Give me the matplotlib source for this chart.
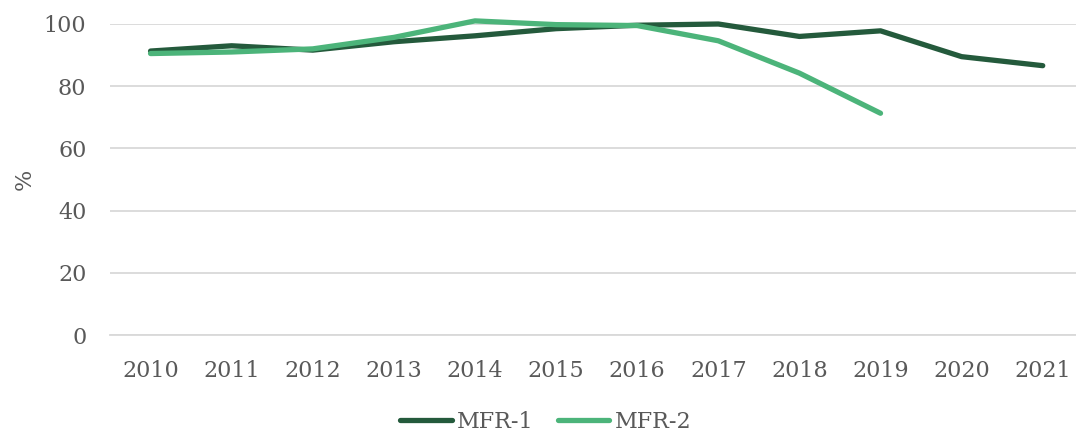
import numpy as np
import matplotlib
matplotlib.use('Agg')
import matplotlib.pyplot as plt

years = ['2010', '2011', '2012', '2013', '2014', '2015', '2016', '2017',
         '2018', '2019', '2020', '2021']
mfr1 = [91.3, 93.0, 91.6, 94.3, 96.2, 98.5, 99.6, 100.0, 96.0, 97.8, 89.5, 86.6]
mfr2 = [90.5, 91.0, 92.0, 95.7, 101.0, 99.8, 99.5, 94.6, 84.2, 71.3]

DARK = '#245a3c'
LIGHT = '#4cb47a'
TEXT = '#595959'
FS = 16

plt.rcParams.update({
    'font.family': 'DejaVu Serif',
    'font.size': FS,
})

fig = plt.figure(figsize=(10.76, 4.32), dpi=100)
ax = fig.add_axes([110 / 1076, (432 - 335) / 432, 966 / 1076, (335 - 24) / 432])

x = np.arange(len(years))
l1, = ax.plot(x, mfr1, color=DARK, lw=3.8, solid_capstyle='round', label='MFR-1', zorder=3)
l2, = ax.plot(x[:len(mfr2)], mfr2, color=LIGHT, lw=3.8, solid_capstyle='round', label='MFR-2', zorder=3)
l1.set_clip_on(False)
l2.set_clip_on(False)

ax.set_xlim(-0.5, 11.41)
ax.set_ylim(0, 100)
ax.set_yticks(range(0, 101, 20))
ax.set_xticks(x)
ax.set_xticklabels(years)
ax.yaxis.grid(True, color='#d9d9d9', lw=1.3)
ax.set_axisbelow(True)
for s in ax.spines.values():
    s.set_visible(False)
ax.spines['bottom'].set_visible(True)
ax.spines['bottom'].set_color('#d9d9d9')
ax.spines['bottom'].set_linewidth(1.3)
ax.tick_params(axis='both', length=0, colors=TEXT, labelsize=FS)
ax.tick_params(axis='y', pad=17)
ax.tick_params(axis='x', pad=18)
ax.set_ylabel('%', color=TEXT, fontsize=FS, labelpad=6)

leg = fig.legend(loc='center', bbox_to_anchor=(546 / 1076, 1 - 422 / 432), ncol=2,
                 frameon=False, handlelength=2.3, columnspacing=1.1, handletextpad=0.25,
                 fontsize=FS)
for t in leg.get_texts():
    t.set_color(TEXT)

fig.savefig('out.png', dpi=100)
